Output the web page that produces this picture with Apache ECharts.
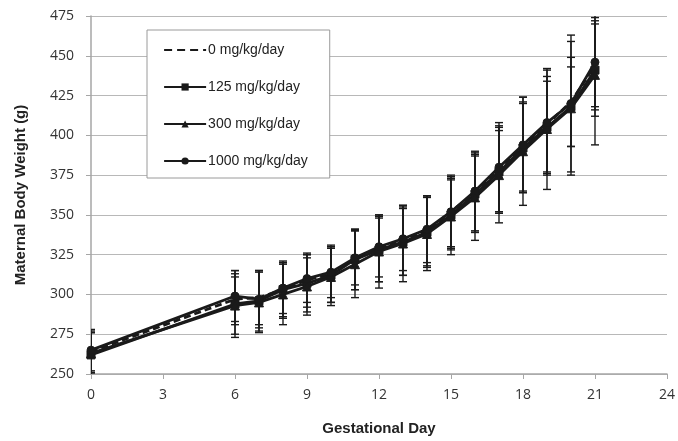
<!DOCTYPE html>
<html>
<head>
<meta charset="utf-8">
<script src="https://cdn.jsdelivr.net/npm/echarts@6/dist/echarts.min.js"></script>
<style>html,body{margin:0;padding:0;background:#fff}#c{width:678px;height:441px}</style>
</head>
<body>
<div id="c"></div>
<script>
// Gestational days
const days = [0, 6, 7, 8, 9, 10, 11, 12, 13, 14, 15, 16, 17, 18, 19, 20, 21];
// Series names
const seriesNames = ['0 mg/kg/day', '125 mg/kg/day', '300 mg/kg/day', '1000 mg/kg/day'];
// Mean maternal body weights (g)
const mean0    = [264, 297, 298, 303, 309, 313, 322, 329, 334, 340, 352, 364, 379, 393, 407, 421, 444];
const mean125  = [262, 294, 296, 303, 307, 312, 322, 328, 333, 339, 350, 363, 377, 392, 405, 418, 441];
const mean300  = [263, 293, 295, 300, 305, 311, 319, 327, 332, 338, 349, 361, 375, 390, 404, 417, 438];
const mean1000 = [265, 299, 297, 304, 310, 314, 323, 330, 335, 341, 352, 365, 380, 394, 408, 420, 446];
// Standard deviations (g)
const sd0    = [13, 16, 17, 17, 17, 18, 19, 21, 22, 22, 23, 25, 27, 28, 30, 28, 28];
const sd125  = [14, 21, 19, 18, 18, 17, 19, 20, 21, 22, 22, 24, 26, 28, 29, 25, 29];
const sd300  = [13, 18, 19, 19, 18, 18, 21, 23, 24, 23, 24, 27, 30, 34, 38, 42, 44];
const sd1000 = [13, 16, 18, 16, 15, 16, 17, 19, 20, 21, 22, 25, 28, 30, 33, 43, 28];
// Axis ticks
const xTicks = {min: 0, max: 24, step: 3};
const yTicks = {min: 250, max: 475, step: 25};

const means = [mean0, mean125, mean300, mean1000];
const sds = [sd0, sd125, sd300, sd1000];
const symbols = ['none', 'rect', 'triangle', 'circle'];
const ink = '#1a1a1a';
const labelFont = "'Open Sans', sans-serif";
const titleFont = "'Liberation Sans', Arial, sans-serif";

const series = [];
// error bars
means.forEach((m, i) => {
  series.push({
    name: seriesNames[i] + ' SD',
    type: 'custom',
    clip: true,
    z: 1,
    data: days.map((d, k) => [d, m[k], sds[i][k]]),
    renderItem: function (params, api) {
      const x = api.value(0), v = api.value(1), s = api.value(2);
      const top = api.coord([x, v + s]);
      const bot = api.coord([x, v - s]);
      const hw = 4;
      const st = {stroke: ink, lineWidth: 1.4};
      return {
        type: 'group',
        children: [
          {type: 'line', shape: {x1: top[0], y1: top[1], x2: bot[0], y2: bot[1]}, style: st},
          {type: 'line', shape: {x1: top[0] - hw, y1: top[1], x2: top[0] + hw, y2: top[1]}, style: st},
          {type: 'line', shape: {x1: bot[0] - hw, y1: bot[1], x2: bot[0] + hw, y2: bot[1]}, style: st}
        ]
      };
    }
  });
});
means.forEach((m, i) => {
  series.push({
    name: seriesNames[i],
    type: 'line',
    z: 3,
    data: days.map((d, k) => [d, m[k]]),
    symbol: symbols[i],
    symbolSize: i === 2 ? 9 : 8,
    showSymbol: i !== 0,
    lineStyle: {color: ink, width: 2.8, type: i === 0 ? [7, 4] : 'solid'},
    itemStyle: {color: ink, borderColor: ink},
    emphasis: {disabled: true},
    animation: false
  });
});

const legendData = seriesNames.map((n, i) => i === 0
  ? {name: n, itemStyle: {opacity: 0}, lineStyle: {type: [8, 5], width: 2.2}}
  : {name: n, lineStyle: {width: 2.2}});

const chart = echarts.init(document.getElementById('c'), null, {renderer: 'canvas'});
chart.setOption({
  animation: false,
  backgroundColor: '#fff',
  grid: {left: 91, right: 9, top: 16, bottom: 61, containLabel: false},
  xAxis: {
    type: 'value', min: xTicks.min, max: xTicks.max, interval: xTicks.step,
    name: 'Gestational Day', nameLocation: 'middle', nameGap: 47,
    nameTextStyle: {fontFamily: titleFont, fontWeight: 'bold', fontSize: 15, color: '#222'},
    axisLine: {show: true, lineStyle: {color: '#a6a6a6', width: 1.5}},
    axisTick: {show: true, inside: false, length: 5, lineStyle: {color: '#a6a6a6'}},
    axisLabel: {margin: 14, fontFamily: labelFont, fontSize: 14, color: '#333'},
    splitLine: {show: false}
  },
  yAxis: {
    type: 'value', min: yTicks.min, max: yTicks.max, interval: yTicks.step,
    name: 'Maternal Body Weight (g)', nameLocation: 'middle', nameGap: 63,
    nameTextStyle: {fontFamily: titleFont, fontWeight: 'bold', fontSize: 15, color: '#222'},
    axisLine: {show: true, lineStyle: {color: '#a6a6a6', width: 1.5}},
    axisTick: {show: true, inside: false, length: 5, lineStyle: {color: '#a6a6a6'}},
    axisLabel: {margin: 17, fontFamily: labelFont, fontSize: 14, color: '#333'},
    splitLine: {show: true, lineStyle: {color: '#b8b8b8', width: 1.2}}
  },
  legend: {
    data: legendData,
    orient: 'vertical',
    left: 147, top: 30,
    padding: [13, 22, 10, 16],
    itemGap: 23,
    itemWidth: 42, itemHeight: 9,
    backgroundColor: '#fff',
    borderColor: '#9a9a9a', borderWidth: 1, borderRadius: 0,
    textStyle: {fontFamily: titleFont, fontSize: 14, color: '#222', padding: [0, 0, 0, -3]},
    selectedMode: false
  },
  series: series
});
</script>
</body>
</html>
